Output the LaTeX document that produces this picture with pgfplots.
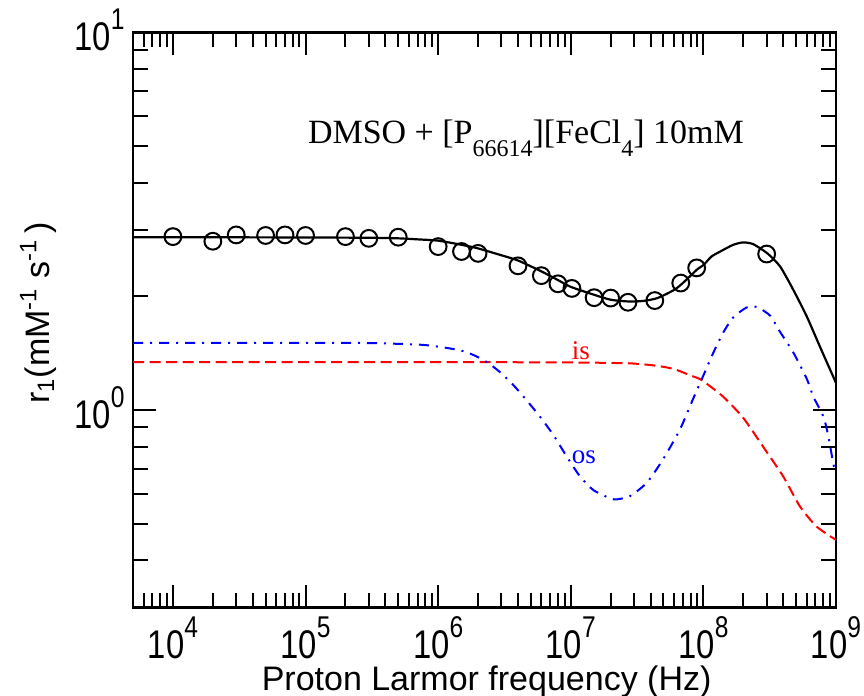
\documentclass[border=0pt]{standalone}
\usepackage{fontspec}
\setmainfont{Liberation Sans}
\newfontfamily\serif{Liberation Serif}
\newfontfamily\tickfont[FakeStretch=0.82]{Liberation Sans}
\usepackage{pgfplots}
\pgfplotsset{compat=1.18}
\newcommand\tl[1]{{\tickfont\fontsize{20}{20}\selectfont 10\raisebox{10.5pt}{\fontsize{15}{15}\selectfont #1}}}
\newcommand\sub[1]{\raisebox{-6.5pt}{\fontsize{12}{12}\selectfont #1}}
\begin{document}
\begin{tikzpicture}
\path[use as bounding box] (-66.5pt,-44.25pt) rectangle (365.5pt,303.75pt);
\begin{axis}[
  at={(0,0)}, anchor=south west,
  scale only axis, width=351.5pt, height=287.5pt,
  xmode=log, ymode=log,
  xmin=5e3, xmax=1e9, ymin=0.3, ymax=10,
  axis line style={line width=1.2pt},
  tick style={line width=1pt, black},
  tick align=inside,
  major tick length=11.5pt, minor tick length=7.5pt,
  xtick={1e4,1e5,1e6,1e7,1e8,1e9},
  xticklabels={\tl{4},\tl{5},\tl{6},\tl{7},\tl{8},\tl{9}},
  minor xtick={6e3,7e3,8e3,9e3,2e4,3e4,4e4,5e4,6e4,7e4,8e4,9e4,2e5,3e5,4e5,5e5,6e5,7e5,8e5,9e5,2e6,3e6,4e6,5e6,6e6,7e6,8e6,9e6,2e7,3e7,4e7,5e7,6e7,7e7,8e7,9e7,2e8,3e8,4e8,5e8,6e8,7e8,8e8,9e8},
  ytick={1,10},
  yticklabels={\tl{0},\tl{1}},
  minor ytick={0.4,0.5,0.6,0.7,0.8,0.9,2,3,4,5,6,7,8,9},
  xticklabel style={anchor=base, inner sep=0pt, yshift=-25.5pt},
  yticklabel style={anchor=base east, inner sep=0pt, xshift=-4pt, yshift=-9pt},
  every axis x label/.style={at={(axis description cs:0.503,-0.1435)}, anchor=base, inner sep=0pt},
  every axis y label/.style={at={(axis description cs:-0.135,0.512)}, rotate=90, anchor=center, inner sep=0pt},
  label style={font=\fontsize{17}{20}\selectfont},
  xlabel={Proton Larmor frequency (Hz)},
  ylabel={r\textsubscript{1}(mM\textsuperscript{-1} s\textsuperscript{-1}\,)},
]
% black fit
\addplot[black, line width=1.1pt, smooth, tension=0.4] coordinates {
(5e3,2.87) (1e4,2.87) (1e5,2.865) (3e5,2.86) (5e5,2.85) (7.3e5,2.83) (1e6,2.81) (1.5e6,2.74) (2e6,2.68) (3e6,2.57) (4e6,2.49) (6e6,2.33) (8e6,2.21) (1e7,2.12) (1.5e7,2.02) (2e7,1.96) (2.7e7,1.94) (3.5e7,1.945) (4.5e7,1.98) (6e7,2.08) (7e7,2.17) (9e7,2.36) (1e8,2.42) (1.15e8,2.55) (1.34e8,2.63) (1.68e8,2.74) (2e8,2.78) (2.38e8,2.75) (3.04e8,2.60) (3.79e8,2.40) (4.77e8,2.08) (6.02e8,1.77) (7.58e8,1.47) (1e9,1.18)
};
% is (red dashed)
\addplot[red, line width=1pt, smooth, tension=0.4, dash pattern=on 5.5pt off 2.75pt] coordinates {
(5e3,1.34) (1e6,1.34) (1e7,1.337) (2e7,1.333) (2.8e7,1.33) (4e7,1.316) (5.24e7,1.298) (6.3e7,1.277) (8e7,1.235) (9.72e7,1.20) (1.41e8,1.085) (2e8,0.953) (2.82e8,0.80) (4e8,0.667) (5.36e8,0.555) (7.16e8,0.491) (1e9,0.453)
};
% os (blue dash-dot)
\addplot[blue, line width=1pt, smooth, tension=0.4, dash pattern=on 5pt off 3.5pt on 1pt off 3.5pt] coordinates {
(5e3,1.507) (1e5,1.507) (3e5,1.505) (7.3e5,1.49) (1.03e6,1.47) (1.46e6,1.44) (1.84e6,1.40) (2.33e6,1.34) (2.93e6,1.26) (3.69e6,1.165) (4.66e6,1.06) (5.87e6,0.96) (7.39e6,0.859) (9.33e6,0.753) (1.175e7,0.667) (1.48e7,0.614) (1.98e7,0.584) (2.22e7,0.580) (2.8e7,0.592) (3.74e7,0.642) (4.97e7,0.741) (6.67e7,0.890) (8.36e7,1.07) (9.95e7,1.23) (1.19e8,1.42) (1.42e8,1.61) (1.68e8,1.76) (2.12e8,1.87) (2.53e8,1.875) (3.18e8,1.78) (3.79e8,1.61) (4.77e8,1.42) (6.02e8,1.21) (6.75e8,1.085) (8.04e8,0.96) (8.77e8,0.85) (9.55e8,0.72) (1e9,0.68)
};
% measured points
\addplot[only marks, mark=o, mark size=4.2pt, mark options={line width=1pt, black}] coordinates {
(1e4,2.88) (2e4,2.80) (3e4,2.91) (5e4,2.90) (7e4,2.91) (1e5,2.90) (2e5,2.88) (3e5,2.85) (5e5,2.87)
(1e6,2.71) (1.5e6,2.63) (2e6,2.60) (4e6,2.41) (6e6,2.27) (8e6,2.16) (1.02e7,2.10) (1.5e7,1.985) (2e7,1.98) (2.7e7,1.93) (4.3e7,1.95) (6.75e7,2.17) (8.9e7,2.38) (3e8,2.59)
};
\node[anchor=base, font=\serif\fontsize{17}{20}\selectfont] at (rel axis cs:0.559,0.807) {DMSO + [P\sub{66614}][FeCl\sub{4}] 10mM};
\node[anchor=base, red, font=\serif\fontsize{13.5}{16}\selectfont] at (rel axis cs:0.637,0.432) {is};
\node[anchor=base, blue, font=\serif\fontsize{13.5}{16}\selectfont] at (rel axis cs:0.6415,0.2508) {os};
\end{axis}
\end{tikzpicture}
\end{document}
